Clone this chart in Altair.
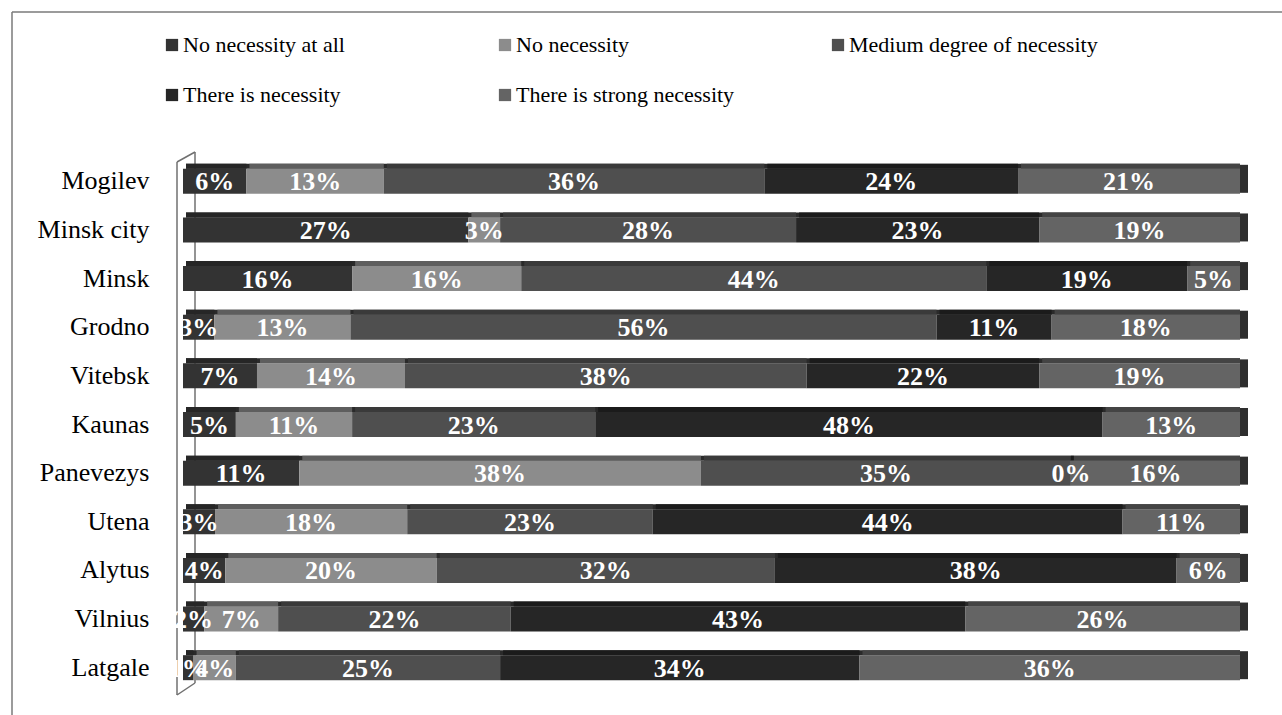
import altair as alt
import pandas as pd

regions = ["Mogilev", "Minsk city", "Minsk", "Grodno", "Vitebsk", "Kaunas",
           "Panevezys", "Utena", "Alytus", "Vilnius", "Latgale"]
categories = ["No necessity at all", "No necessity", "Medium degree of necessity",
              "There is necessity", "There is strong necessity"]

no_necessity_at_all = [6, 27, 16, 3, 7, 5, 11, 3, 4, 2, 1]
no_necessity = [13, 3, 16, 13, 14, 11, 38, 18, 20, 7, 4]
medium = [36, 28, 44, 56, 38, 23, 35, 23, 32, 22, 25]
there_is = [24, 23, 19, 11, 22, 48, 0, 44, 38, 43, 34]
strong = [21, 19, 5, 18, 19, 13, 16, 11, 6, 26, 36]

front_colors = ["#333333", "#8c8c8c", "#4f4f4f", "#262626", "#646464"]
top_colors = ["#262626", "#5e5e5e", "#3a3a3a", "#1b1b1b", "#444444"]

series = [no_necessity_at_all, no_necessity, medium, there_is, strong]
rows = []
for i, r in enumerate(regions):
    vals = [s[i] for s in series]
    total = float(sum(vals))
    cum = 0.0
    for k, c in enumerate(categories):
        v = vals[k]
        rows.append({"region": r, "category": c, "value": v, "order": k,
                     "start": cum / total, "end": (cum + v) / total,
                     "mid": (cum + v / 2.0) / total, "label": f"{v}%"})
        cum += v
df = pd.DataFrame(rows)

W, H = 1057, 535
FONT = "Liberation Serif"

xs = alt.Scale(domain=[0, 1], nice=False, zero=True)
ys = alt.Scale(domain=regions, paddingInner=0.48, paddingOuter=0.24)
yenc = alt.Y("region:N", sort=regions, scale=ys,
             axis=alt.Axis(title=None, labelFont=FONT, labelFontSize=26,
                           labelColor="black", ticks=False, domain=False,
                           labelPadding=34, labelLimit=0))

base = alt.Chart(df)

one = pd.DataFrame({"a": [0]})
wall_col = "#707070"
wall = alt.layer(
    alt.Chart(one).mark_rule(color=wall_col, strokeWidth=1.5).encode(
        x=alt.value(-6), y=alt.value(5), y2=alt.value(538)),
    alt.Chart(one).mark_rule(color=wall_col, strokeWidth=1.5).encode(
        x=alt.value(12), y=alt.value(-5), y2=alt.value(526)),
    alt.Chart(one).mark_rule(color=wall_col, strokeWidth=1.5).encode(
        x=alt.value(-6), x2=alt.value(12), y=alt.value(5), y2=alt.value(-5)),
    alt.Chart(one).mark_rule(color=wall_col, strokeWidth=1.5).encode(
        x=alt.value(-6), x2=alt.value(12), y=alt.value(538), y2=alt.value(526)),
)

frame = alt.layer(
    alt.Chart(one).mark_rule(color="#7a7a7a", strokeWidth=1.5).encode(
        x=alt.value(-171), x2=alt.value(1110), y=alt.value(-145)),
    alt.Chart(one).mark_rule(color="#7a7a7a", strokeWidth=1.5).encode(
        x=alt.value(-171), y=alt.value(-145), y2=alt.value(570)),
)

top_under = base.transform_filter(alt.datum.order == 0).mark_bar(
    size=5, yOffset=-15, xOffset=3, color="#2a2a2a").encode(
    x=alt.X("start:Q", scale=xs, axis=None),
    x2=alt.datum(1),
    y=yenc,
)

top = base.mark_bar(size=5, yOffset=-15, xOffset=3).encode(
    x=alt.X("start:Q", scale=xs, axis=None),
    x2="end:Q",
    y=yenc,
    color=alt.Color("category:N", scale=alt.Scale(domain=categories, range=top_colors),
                    legend=None),
)

front = base.mark_bar(size=25).encode(
    x=alt.X("start:Q", scale=xs, axis=None),
    x2="end:Q",
    y=yenc,
    color=alt.Color("category:N", sort=categories,
                    scale=alt.Scale(domain=categories, range=front_colors),
                    legend=alt.Legend(title=None, orient="none", legendX=-22, legendY=-123,
                                      direction="horizontal", columns=3, gridAlign="all",
                                      columnPadding=62, rowPadding=28,
                                      symbolType="square", symbolSize=150,
                                      symbolStrokeWidth=0, labelFont=FONT,
                                      labelFontSize=22, labelColor="black",
                                      labelLimit=0, labelOffset=0)),
)

side = base.transform_filter(alt.datum.order == 4).mark_tick(
    thickness=8, size=28, xOffset=4, yOffset=-2.5, color="#2e2e2e", opacity=1).encode(
    x=alt.X("end:Q", scale=xs, axis=None),
    y=yenc,
)

labels = base.mark_text(color="white", font=FONT, fontWeight="bold", fontSize=26,
                        baseline="middle", dy=1).encode(
    x=alt.X("mid:Q", scale=xs, axis=None),
    y=yenc,
    text="label:N",
)

chart = alt.layer(frame, wall, top_under, top, front, side, labels).resolve_scale(
    color="independent"
).properties(
    width=W, height=H,
    autosize=alt.AutoSizeParams(type="none"),
    padding={"left": 183, "top": 157, "right": 42, "bottom": 23},
    background="white",
).configure_view(stroke=None)

chart.save("out.html", embed_options={"renderer": "svg", "actions": False})
